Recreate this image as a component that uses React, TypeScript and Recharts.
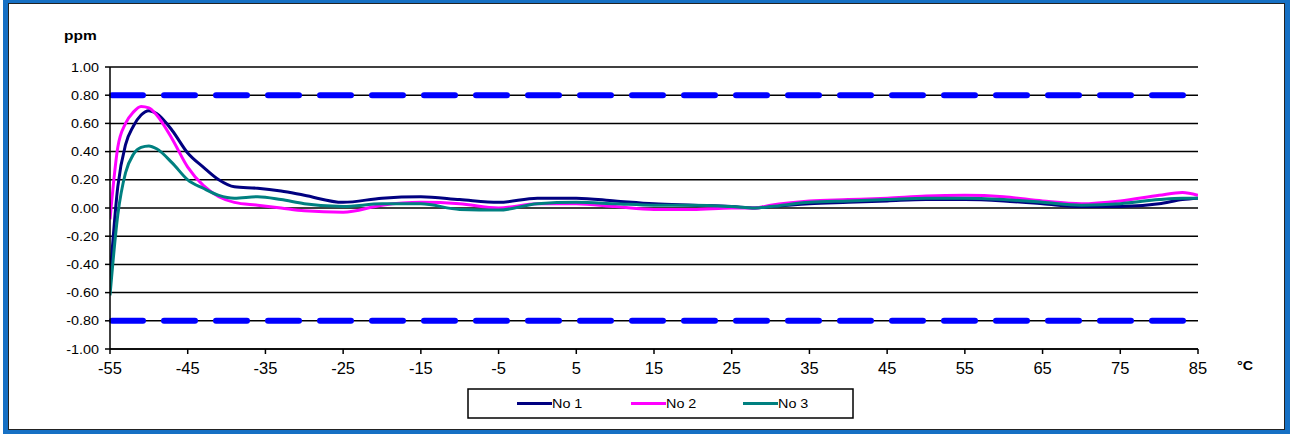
import { LineChart, Line, XAxis, YAxis, CartesianGrid, ReferenceLine } from 'recharts';

// temperature points (°C)
const temps = [-55, -54, -53, -52, -51, -50, -49, -47, -45, -43, -41, -39, -36, -33, -30, -25, -20, -15, -10, -5, 0, 5, 10, 15, 20, 25, 28, 30, 35, 40, 45, 50, 55, 60, 65, 70, 75, 80, 83, 85];

// deviation in ppm
const no1 = [-0.5, 0.15, 0.45, 0.58, 0.66, 0.69, 0.67, 0.55, 0.39, 0.29, 0.2, 0.15, 0.14, 0.12, 0.09, 0.04, 0.07, 0.08, 0.06, 0.04, 0.07, 0.07, 0.05, 0.03, 0.02, 0.01, 0.0, 0.01, 0.03, 0.04, 0.05, 0.06, 0.06, 0.05, 0.03, 0.01, 0.01, 0.03, 0.06, 0.07];
const no2 = [-0.08, 0.43, 0.6, 0.68, 0.72, 0.71, 0.66, 0.49, 0.29, 0.16, 0.08, 0.04, 0.02, 0.0, -0.02, -0.03, 0.02, 0.04, 0.03, 0.0, 0.03, 0.03, 0.01, -0.01, -0.01, 0.0, 0.0, 0.02, 0.05, 0.06, 0.07, 0.085, 0.09, 0.08, 0.05, 0.03, 0.05, 0.09, 0.11, 0.09];
const no3 = [-0.62, -0.05, 0.25, 0.38, 0.43, 0.44, 0.42, 0.32, 0.2, 0.14, 0.09, 0.07, 0.08, 0.06, 0.03, 0.01, 0.03, 0.03, -0.01, -0.015, 0.03, 0.04, 0.03, 0.02, 0.02, 0.01, 0.0, 0.01, 0.04, 0.05, 0.06, 0.07, 0.07, 0.06, 0.04, 0.02, 0.03, 0.06, 0.07, 0.07];

const seriesKeys = ['no1', 'no2', 'no3'];
const seriesNames = ['No 1', 'No 2', 'No 3'];
const seriesColors = ['#000080', '#ff00ff', '#008080'];

const limits = [0.8, -0.8];
const yTicks = [-1, -0.8, -0.6, -0.4, -0.2, 0, 0.2, 0.4, 0.6, 0.8, 1];
const xTicks = [-55, -45, -35, -25, -15, -5, 5, 15, 25, 35, 45, 55, 65, 75, 85];

const chartData = temps.map((t, i) => ({ t, no1: no1[i], no2: no2[i], no3: no3[i] }));

const FONT = '"Liberation Sans", Arial, sans-serif';

function YTick(props: any) {
  const { x, y, payload } = props;
  return (
    <g transform={`translate(${x},${y}) scale(1.15,1)`}>
      <text x={0} y={0} dy="0.36em" textAnchor="end" fontSize={12.5} fontFamily={FONT} fill="#000">
        {Number(payload.value).toFixed(2)}
      </text>
    </g>
  );
}

function XTick(props: any) {
  const { x, y, payload } = props;
  return (
    <text x={x} y={y} dy="0.71em" textAnchor="middle" fontSize={16.5} fontFamily={FONT} fill="#000">
      {payload.value}
    </text>
  );
}

export default function App() {
  return (
    <div style={{ position: 'absolute', left: 0, top: 0, width: 1293, height: 434, background: '#fff', fontFamily: FONT }}>
      {/* frame */}
      <div
        style={{
          position: 'absolute', left: 3, top: 0, width: 1287, height: 434, boxSizing: 'border-box',
          borderStyle: 'solid', borderColor: '#1670c4', borderWidth: '3px 5px 4px 5px',
        }}
      >
        <div style={{ position: 'absolute', inset: 0, border: '1px solid #222' }} />
      </div>

      <div style={{ position: 'absolute', left: 0, top: 0 }}>
        <LineChart width={1293} height={434} data={chartData} margin={{ top: 67, right: 95, bottom: 55, left: 0 }}>
          <CartesianGrid horizontal vertical={false} stroke="#000" strokeWidth={1.5} />
          <XAxis
            dataKey="t"
            type="number"
            domain={[-55, 85]}
            ticks={xTicks}
            height={30}
            tickSize={5}
            tickMargin={8}
            axisLine={{ stroke: '#000', strokeWidth: 1.5 }}
            tickLine={{ stroke: '#000', strokeWidth: 1.5 }}
            tick={<XTick />}
            allowDataOverflow
          />
          <YAxis
            type="number"
            domain={[-1, 1]}
            ticks={yTicks}
            width={110}
            tickSize={5}
            tickMargin={6}
            axisLine={{ stroke: '#000', strokeWidth: 1.5 }}
            tickLine={{ stroke: '#000', strokeWidth: 1.5 }}
            tick={<YTick />}
            allowDataOverflow
          />
          {limits.map((v) => (
            <ReferenceLine
              key={v}
              y={v}
              stroke="#0000ff"
              strokeWidth={6}
              strokeDasharray="31 21"
              strokeDashoffset={-2}
              strokeLinecap="round"
            />
          ))}
          {seriesKeys.map((k, i) => (
            <Line
              key={k}
              dataKey={k}
              name={seriesNames[i]}
              type="monotone"
              stroke={seriesColors[i]}
              strokeWidth={3}
              dot={false}
              activeDot={false}
              isAnimationActive={false}
            />
          ))}
        </LineChart>
      </div>

      {/* axis titles and legend */}
      <svg width={1293} height={434} style={{ position: 'absolute', left: 0, top: 0, pointerEvents: 'none' }}>
        <g transform="translate(64,40) scale(1.15,1)">
          <text x={0} y={0} fontSize={13.5} fontWeight="bold" fontFamily={FONT} fill="#000">ppm</text>
        </g>
        <g transform="translate(1237,370) scale(1.1,1)">
          <text x={0} y={0} fontSize={13} fontWeight="bold" fontFamily={FONT} fill="#000">°C</text>
        </g>
        <rect x={468} y={389} width={385} height={29} fill="#fff" stroke="#000" strokeWidth={1.5} />
        {seriesNames.map((n, i) => {
          const x0 = [517, 631, 743][i];
          return (
            <g key={n}>
              <line x1={x0} y1={403.5} x2={x0 + 35} y2={403.5} stroke={seriesColors[i]} strokeWidth={3} />
              <g transform={`translate(${x0 + 35},408) scale(1.15,1)`}>
                <text x={0} y={0} fontSize={12.5} fontFamily={FONT} fill="#000">{n}</text>
              </g>
            </g>
          );
        })}
      </svg>
    </div>
  );
}
